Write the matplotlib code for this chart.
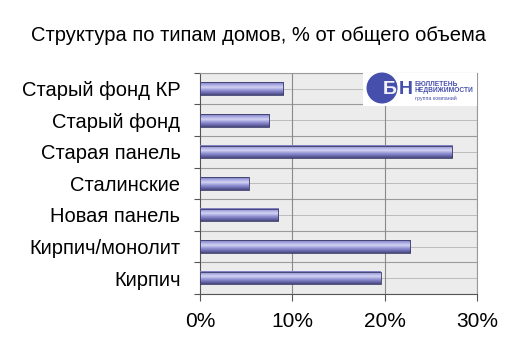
import numpy as np
import matplotlib
matplotlib.use("Agg")
import matplotlib.pyplot as plt
from matplotlib.patches import Ellipse, Rectangle

categories = ["Кирпич", "Кирпич/монолит", "Новая панель", "Сталинские",
              "Старая панель", "Старый фонд", "Старый фонд КР"]
values = [19.6, 22.8, 8.5, 5.3, 27.3, 7.5, 9.0]
xticks = [0, 10, 20, 30]
xticklabels = ["0%", "10%", "20%", "30%"]
title = "Структура по типам домов, % от общего объема"

plt.rcParams['font.family'] = ['Liberation Sans', 'DejaVu Sans']

fig = plt.figure(figsize=(5.1, 3.61), dpi=100)
ax = fig.add_axes([0.392, 0.186, 0.543, 0.612])
ax.set_facecolor("#ececec")

y = np.arange(len(categories))
bar_h = 0.4

# gradient bars
grad = np.linspace(0, 1, 64).reshape(-1, 1)
cmap = matplotlib.colors.LinearSegmentedColormap.from_list(
    "bar", ["#48487f", "#7070b4", "#9c9cda", "#d4d4f4", "#a8a8e2", "#7a7abf"])
for yi, v in zip(y, values):
    ax.imshow(grad, extent=(0, v, yi - bar_h / 2, yi + bar_h / 2), aspect="auto",
              cmap=cmap, origin="lower", zorder=3)
    ax.add_patch(Rectangle((0, yi - bar_h / 2), v, bar_h, fill=False,
                           edgecolor="#3a3a68", linewidth=0.6, zorder=4))

ax.set_xlim(0, 30)
ax.set_ylim(-0.5, len(categories) - 0.5)

for b in np.arange(-0.5, len(categories), 1.0):
    ax.axhline(b, color="#9a9a9a", linewidth=0.8, zorder=1)
for c in y:
    ax.axhline(c, color="#b5b5b5", linewidth=0.6, zorder=1)
for xt in xticks[1:]:
    ax.axvline(xt, color="#8a8a8a", linewidth=0.8, zorder=1)

ax.set_xticks(xticks)
ax.set_xticklabels(xticklabels, fontsize=15)
ax.set_yticks(np.arange(-0.5, len(categories), 1.0), minor=False)
ax.set_yticklabels([])
ax.set_yticks(y, minor=True)
ax.set_yticklabels(categories, minor=True, fontsize=14.5)
ax.tick_params(axis="y", which="minor", length=0, pad=14)
ax.tick_params(axis="y", which="major", length=4, color="#555555")
ax.tick_params(axis="x", length=5, pad=8, color="#555555")

for s in ["top", "right"]:
    ax.spines[s].set_color("#9a9a9a")
for s in ["left", "bottom"]:
    ax.spines[s].set_color("#555555")

# logo
W, H = 510.0, 361.0
fig.patches.append(Rectangle((363 / W, 1 - 106 / H), 114 / W, 33 / H,
                             transform=fig.transFigure,
                             facecolor="white", edgecolor="none", zorder=5))
fig.patches.append(Ellipse((382 / W, 1 - 88 / H), 31 / W, 31 / H,
                           transform=fig.transFigure,
                           facecolor="#4650ac", edgecolor="none", zorder=6))
fig.text(390 / W, 1 - 89 / H, "Б", fontsize=14, fontweight="bold", color="#f2f2fa",
         ha="center", va="center", zorder=7)
fig.text(406 / W, 1 - 89 / H, "Н", fontsize=14, fontweight="bold", color="#4650ac",
         ha="center", va="center", zorder=7)
fig.text(415 / W, 1 - 84 / H, "БЮЛЛЕТЕНЬ", fontsize=4.8, fontweight="bold",
         color="#4650ac", ha="left", va="center", zorder=7)
fig.text(415 / W, 1 - 90.5 / H, "НЕДВИЖИМОСТИ", fontsize=4.8, fontweight="bold",
         color="#4650ac", ha="left", va="center", zorder=7)
fig.text(415 / W, 1 - 98 / H, "группа компаний", fontsize=3.8, color="#4650ac",
         ha="left", va="center", zorder=7)

fig.text(0.506, 0.902, title, fontsize=14.5, ha="center", va="center")

fig.savefig("out.png", dpi=100, facecolor="white")
